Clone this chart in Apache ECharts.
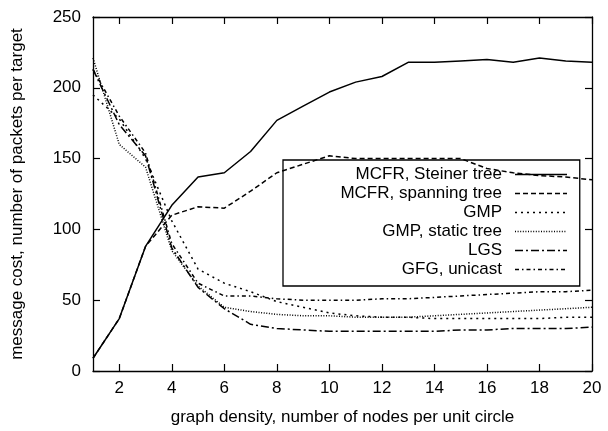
<!DOCTYPE html>
<html>
<head>
<meta charset="utf-8">
<script src="https://cdn.jsdelivr.net/npm/echarts@6/dist/echarts.min.js"></script>
<style>html,body{margin:0;padding:0;background:#fff}#c{width:608px;height:431px}</style>
</head>
<body>
<div id="c"></div>
<script>
const density = [1,2,3,4,5,6,7,8,9,10,11,12,13,14,15,16,17,18,19,20];
const mcfrSteiner  = [9,37,88,117,137,140,155,177,187,197,204,208,218,218,219,220,218,221,219,218];
const mcfrSpanning = [9,37,88,110,116,115,127,140,146,152,150,150,150,150,150,143,140,138,137,135];
const gmp          = [195,178,150,106,72,62,56,49,45,41,39,38,38,37,37,37,37,37,38,38];
const gmpStatic    = [221,160,144,85,60,45,42,40,39,39,38,38,38,39,40,41,42,43,44,45];
const lgs          = [213,174,152,87,59,44,33,30,29,28,28,28,28,28,29,29,30,30,30,31];
const gfgUnicast   = [213,180,154,90,62,53,53,51,50,50,50,51,51,52,53,54,55,56,56,57];
const xTicks = [2,4,6,8,10,12,14,16,18,20];
const yTicks = [0,50,100,150,200,250];
const seriesNames = ['MCFR, Steiner tree','MCFR, spanning tree','GMP','GMP, static tree','LGS','GFG, unicast'];

const font = 'Liberation Sans, Arial, sans-serif';
const fs = 17;
const dashes = ['solid',[5,3],[2,4],[1,1.6],[8,3,2,3],[4,3,1.5,3]];
const dataSets = [mcfrSteiner,mcfrSpanning,gmp,gmpStatic,lgs,gfgUnicast];

const chart = echarts.init(document.getElementById('c'), null, {renderer:'canvas'});
const axisCommon = {
  type:'value',
  axisLine:{show:true,onZero:false,lineStyle:{color:'#000',width:1.3}},
  splitLine:{show:false},
};
chart.setOption({
  animation:false,
  backgroundColor:'#fff',
  grid:{left:93,right:16,top:17,bottom:59,containLabel:false},
  xAxis:[
    Object.assign({}, axisCommon, {
      position:'bottom', min:1, max:20,
      name:'graph density, number of nodes per unit circle',
      nameLocation:'middle', nameGap:38,
      nameTextStyle:{color:'#000',fontSize:fs,fontFamily:font},
      axisTick:{show:true,inside:true,length:7,customValues:xTicks,lineStyle:{color:'#000',width:1.2}},
      axisLabel:{show:true,customValues:xTicks,color:'#000',fontSize:fs,fontFamily:font,margin:9}
    }),
    Object.assign({}, axisCommon, {
      position:'top', min:1, max:20,
      axisTick:{show:true,inside:true,length:7,customValues:xTicks,lineStyle:{color:'#000',width:1.2}},
      axisLabel:{show:false}
    })
  ],
  yAxis:[
    Object.assign({}, axisCommon, {
      position:'left', min:0, max:250, interval:50,
      name:'message cost, number of packets per target',
      nameLocation:'middle', nameGap:67,
      nameTextStyle:{color:'#000',fontSize:fs,fontFamily:font},
      axisTick:{show:true,inside:true,length:7,lineStyle:{color:'#000',width:1.2}},
      axisLabel:{show:true,color:'#000',fontSize:fs,fontFamily:font,margin:12}
    }),
    Object.assign({}, axisCommon, {
      position:'right', min:0, max:250, interval:50,
      axisTick:{show:true,inside:true,length:7,lineStyle:{color:'#000',width:1.2}},
      axisLabel:{show:false}
    })
  ],
  legend:{
    orient:'vertical',
    align:'right',
    left:283, top:160,
    padding:[6,12,8,19],
    borderColor:'#000', borderWidth:1.3,
    itemWidth:52, itemHeight:17, itemGap:2,
    itemStyle:{opacity:0},
    lineStyle:{width:1.5},
    textStyle:{color:'#000',fontSize:fs,fontFamily:font,width:200,align:'right',lineHeight:17,padding:[0,8,0,0]},
    data:seriesNames
  },
  series: seriesNames.map((n,i)=>({
    name:n, type:'line', xAxisIndex:0, yAxisIndex:0,
    symbol:'none', showSymbol:false,
    lineStyle:{color:'#000',width:1.5,type:dashes[i]},
    itemStyle:{color:'#000'},
    data: density.map((x,j)=>[x,dataSets[i][j]])
  }))
});
</script>
</body>
</html>
